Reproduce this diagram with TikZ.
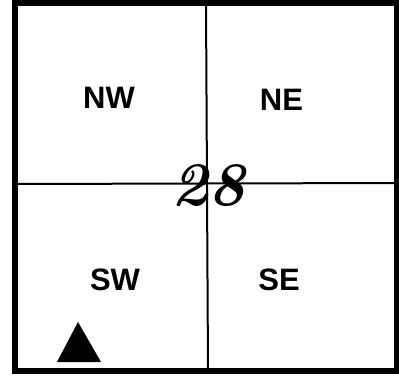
\documentclass[tikz,border=0pt]{standalone}
\usepackage{fontspec}
\setmainfont{Liberation Sans}
\newfontfamily\handfont{Latin Modern Roman}
\begin{document}
\begin{tikzpicture}[x=1pt,y=-1pt,
  lbl/.style={font=\bfseries\fontsize{31}{31}\selectfont, inner sep=0pt},
  gridline/.style={line width=2pt},
  frameline/.style={line width=5.5pt}]
\useasboundingbox (0,0) rectangle (399,375);
\fill[white] (0,0) rectangle (399,375);
\coordinate (vt) at (206,3);
\coordinate (vb) at (208,371);
\coordinate (hl) at (15,184);
\coordinate (hr) at (397,183);
\draw[gridline] (vt) -- (vb);
\draw[gridline] (hl) -- (hr);
\draw[frameline] (15,3) rectangle (397,371);
\node[lbl] (nw) at (109,98) {NW};
\node[lbl] (ne) at (281.5,100) {NE};
\node[lbl] (sw) at (115,280) {SW};
\node[lbl] (se) at (279,280) {SE};
\node[inner sep=0pt, font=\handfont\bfseries\itshape\fontsize{62}{62}\selectfont] (num) at (208,186) {28};
\fill (78,322) -- (57,362) -- (101,362) -- cycle;
\end{tikzpicture}
\end{document}
